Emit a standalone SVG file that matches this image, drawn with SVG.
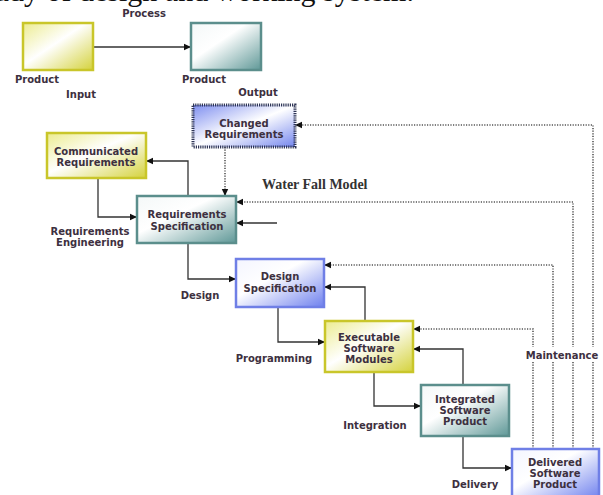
<svg xmlns="http://www.w3.org/2000/svg" width="603" height="495" viewBox="0 0 603 495">
<style>
.t{font-family:"DejaVu Sans",Verdana,sans-serif;font-size:10px;font-weight:bold;fill:#3d3040;text-anchor:middle}
.l{font-family:"DejaVu Sans",Verdana,sans-serif;font-size:10px;font-weight:bold;fill:#3d3040;text-anchor:middle}
.c{fill:none;stroke:#333;stroke-width:1.3;marker-end:url(#ah)}
.d{fill:none;stroke:#555;stroke-width:1.6;stroke-dasharray:1.2,1.4;marker-end:url(#ah)}
.y{fill:url(#gy);stroke:#c9c62a;stroke-width:2.5}
.g{fill:url(#gt);stroke:#5b8e8c;stroke-width:2.5}
.b{fill:url(#gb);stroke:#6f7fe6;stroke-width:2.5}
</style>
<defs>
<marker id="ah" markerUnits="userSpaceOnUse" markerWidth="8" markerHeight="8" refX="7" refY="4" orient="auto">
<path d="M0,0.8 L7,4 L0,7.2 z" fill="#111"/>
</marker>
<linearGradient id="gy" x1="0" y1="0" x2="1" y2="1">
<stop offset="0" stop-color="#ecec90"/><stop offset="0.45" stop-color="#ffffff"/><stop offset="1" stop-color="#d4d23c"/>
</linearGradient>
<linearGradient id="gt" x1="0" y1="0" x2="1" y2="1">
<stop offset="0" stop-color="#f4f8f8"/><stop offset="0.4" stop-color="#ffffff"/><stop offset="1" stop-color="#5f9897"/>
</linearGradient>
<linearGradient id="gb" x1="0" y1="0" x2="1" y2="1">
<stop offset="0" stop-color="#f4f5ff"/><stop offset="0.4" stop-color="#ffffff"/><stop offset="1" stop-color="#6e80ee"/>
</linearGradient>
<linearGradient id="gc" x1="0" y1="0" x2="1" y2="1">
<stop offset="0" stop-color="#7f8ff0"/><stop offset="0.5" stop-color="#ffffff"/><stop offset="1" stop-color="#7486ee"/>
</linearGradient>
</defs>
<rect width="603" height="495" fill="#ffffff"/>
<text x="-6" y="1" font-family="Liberation Serif,serif" font-size="30" fill="#111">udy of design and working system.</text>

<g id="connectors">
<path class="c" d="M93,47 H191"/>
<path class="c" d="M188,196 V161 H146"/>
<path class="c" d="M98,178 V217 H137"/>
<path class="d" d="M225,147 V196"/>
<path class="d" d="M593,449 V125 H295"/>
<path class="c" d="M277,223 H236"/>
<path class="d" d="M573,449 V202 H236"/>
<path class="c" d="M188,243 V279 H236"/>
<path class="d" d="M553,449 V265 H324"/>
<path class="c" d="M365,321 V287 H324"/>
<path class="c" d="M278,307 V342 H325"/>
<path class="d" d="M533,449 V329 H413"/>
<path class="c" d="M463,385 V349 H413"/>
<path class="c" d="M374,372 V406 H421"/>
<path class="c" d="M463,436 V468 H512"/>
</g>

<g id="product-input">
<rect class="y" x="23" y="23" width="70" height="47"/>
<text class="l" x="37" y="83">Product</text>
<text class="l" x="81" y="98">Input</text>
</g>
<g id="process-label"><text class="l" x="144" y="17">Process</text></g>
<g id="product-output">
<rect class="g" x="191" y="23" width="70" height="47"/>
<text class="l" x="204" y="83">Product</text>
<text class="l" x="258" y="96">Output</text>
</g>
<g id="changed-requirements">
<rect x="193" y="105" width="102" height="42" fill="url(#gc)" stroke="#2e3555" stroke-width="3" stroke-dasharray="1.2,1"/>
<text class="t" x="244" y="127">Changed</text>
<text class="t" x="244" y="138">Requirements</text>
</g>
<g id="communicated-requirements">
<rect class="y" x="47" y="133" width="99" height="45"/>
<text class="t" x="96" y="155">Communicated</text>
<text class="t" x="96" y="166">Requirements</text>
</g>
<g id="requirements-specification">
<rect class="g" x="137" y="196" width="99" height="47"/>
<text class="t" x="187" y="218">Requirements</text>
<text class="t" x="187" y="230">Specification</text>
</g>
<g id="requirements-engineering-label">
<text class="l" x="90" y="235">Requirements</text>
<text class="l" x="90" y="246">Engineering</text>
</g>
<g id="title"><text x="262" y="189" font-family="Liberation Serif,serif" font-size="14" font-weight="bold" fill="#333">Water Fall Model</text></g>
<g id="design-specification">
<rect class="b" x="236" y="259" width="88" height="48"/>
<text class="t" x="280" y="280">Design</text>
<text class="t" x="280" y="292">Specification</text>
</g>
<g id="design-label"><text class="l" x="200" y="299">Design</text></g>
<g id="executable-software-modules">
<rect class="y" x="325" y="321" width="88" height="51"/>
<text class="t" x="369" y="341">Executable</text>
<text class="t" x="369" y="352">Software</text>
<text class="t" x="369" y="363">Modules</text>
</g>
<g id="programming-label"><text class="l" x="274" y="362">Programming</text></g>
<g id="integrated-software-product">
<rect class="g" x="421" y="385" width="88" height="51"/>
<text class="t" x="465" y="403">Integrated</text>
<text class="t" x="465" y="414">Software</text>
<text class="t" x="465" y="425">Product</text>
</g>
<g id="integration-label"><text class="l" x="375" y="429">Integration</text></g>
<g id="delivered-software-product">
<rect class="b" x="512" y="449" width="87" height="50"/>
<text class="t" x="555" y="466">Delivered</text>
<text class="t" x="555" y="477">Software</text>
<text class="t" x="555" y="488">Product</text>
</g>
<g id="delivery-label"><text class="l" x="475" y="488">Delivery</text></g>
<g id="maintenance-label">
<rect x="524" y="347" width="76" height="14" fill="#ffffff"/>
<text class="l" x="562" y="359">Maintenance</text>
</g>
</svg>
